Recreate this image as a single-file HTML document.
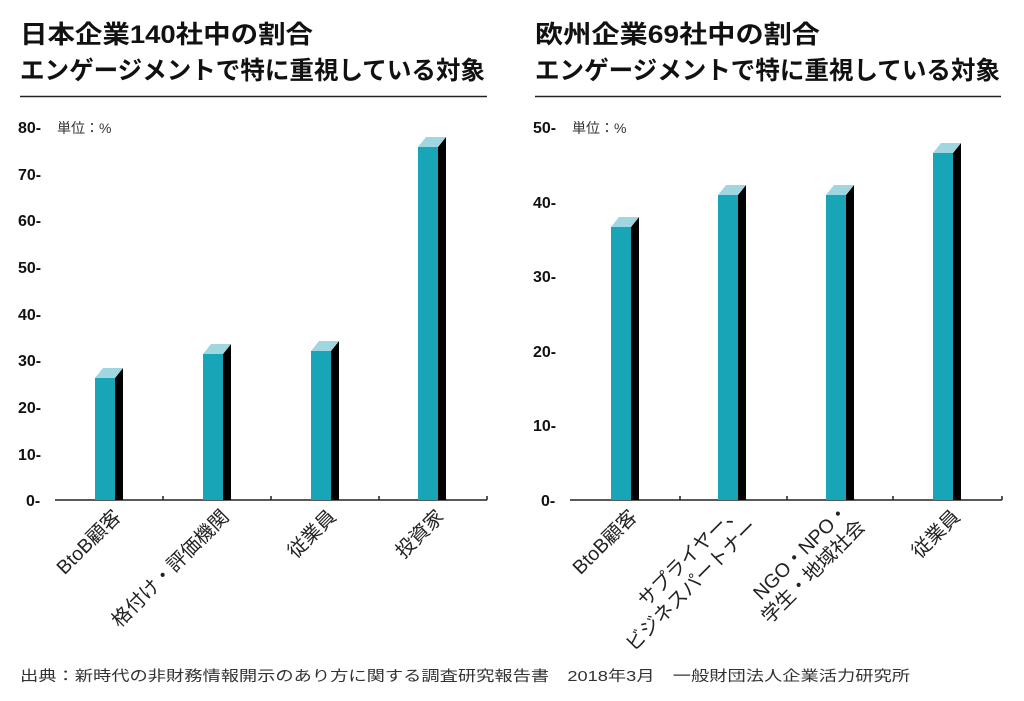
<!DOCTYPE html>
<html><head><meta charset="utf-8"><style>
html,body{margin:0;padding:0;background:#fff;}
svg{display:block;font-family:"Liberation Sans","Noto Sans CJK JP",sans-serif;}
.t{font-size:25px;font-weight:bold;fill:#111;}
.y{font-size:16px;font-weight:bold;fill:#111;}
.l{font-size:19.5px;fill:#222;}
</style></head><body>
<svg width="1024" height="701" viewBox="0 0 1024 701">
<text class="t" x="20" y="43" textLength="293" lengthAdjust="spacingAndGlyphs">日本企業140社中の割合</text>
<text class="t" x="20" y="79" textLength="465" lengthAdjust="spacingAndGlyphs">エンゲージメントで特に重視している対象</text>
<line x1="20" y1="96.5" x2="487" y2="96.5" stroke="#222" stroke-width="1.5"/>
<text class="t" x="535" y="43" textLength="285" lengthAdjust="spacingAndGlyphs">欧州企業69社中の割合</text>
<text class="t" x="535" y="79" textLength="465" lengthAdjust="spacingAndGlyphs">エンゲージメントで特に重視している対象</text>
<line x1="535" y1="96.5" x2="1001" y2="96.5" stroke="#222" stroke-width="1.5"/>

<g class="y">
<text x="18" y="133">80-</text><text x="18" y="180">70-</text><text x="18" y="226">60-</text>
<text x="18" y="273">50-</text><text x="18" y="320">40-</text><text x="18" y="366">30-</text>
<text x="18" y="413">20-</text><text x="18" y="460">10-</text><text x="26" y="506">0-</text>
</g>
<text x="57" y="133" style="font-size:14px;fill:#333">単位：%</text>
<path d="M55 500H487M163 496V500M271 496V500M379 496V500M487 496V500" stroke="#222" stroke-width="1.5" fill="none"/>
<g>
<rect x="95" y="378" width="20" height="122" fill="#18a5b8"/><polygon points="115,378 123,368 123,500 115,500" fill="#000"/><polygon points="95,378 103,368 123,368 115,378" fill="#9fd6df"/>
<rect x="203" y="354" width="20" height="146" fill="#18a5b8"/><polygon points="223,354 231,344 231,500 223,500" fill="#000"/><polygon points="203,354 211,344 231,344 223,354" fill="#9fd6df"/>
<rect x="311" y="351" width="20" height="149" fill="#18a5b8"/><polygon points="331,351 339,341 339,500 331,500" fill="#000"/><polygon points="311,351 319,341 339,341 331,351" fill="#9fd6df"/>
<rect x="418" y="147" width="20" height="353" fill="#18a5b8"/><polygon points="438,147 446,137 446,500 438,500" fill="#000"/><polygon points="418,147 426,137 446,137 438,147" fill="#9fd6df"/>
</g>
<g class="l">
<text transform="translate(122,518) rotate(-45)" text-anchor="end">BtoB顧客</text>
<text transform="translate(230,518) rotate(-45)" text-anchor="end">格付け・評価機関</text>
<text transform="translate(337,518) rotate(-45)" text-anchor="end">従業員</text>
<text transform="translate(445,518) rotate(-45)" text-anchor="end">投資家</text>
</g>

<g class="y">
<text x="533" y="133">50-</text><text x="533" y="208">40-</text><text x="533" y="282">30-</text>
<text x="533" y="357">20-</text><text x="533" y="431">10-</text><text x="541" y="506">0-</text>
</g>
<text x="572" y="133" style="font-size:14px;fill:#333">単位：%</text>
<path d="M570 500H1002M680 496V500M787 496V500M893 496V500M1002 496V500" stroke="#222" stroke-width="1.5" fill="none"/>
<g>
<rect x="611" y="227" width="20" height="273" fill="#18a5b8"/><polygon points="631,227 639,217 639,500 631,500" fill="#000"/><polygon points="611,227 619,217 639,217 631,227" fill="#9fd6df"/>
<rect x="718" y="195" width="20" height="305" fill="#18a5b8"/><polygon points="738,195 746,185 746,500 738,500" fill="#000"/><polygon points="718,195 726,185 746,185 738,195" fill="#9fd6df"/>
<rect x="826" y="195" width="20" height="305" fill="#18a5b8"/><polygon points="846,195 854,185 854,500 846,500" fill="#000"/><polygon points="826,195 834,185 854,185 846,195" fill="#9fd6df"/>
<rect x="933" y="153" width="20" height="347" fill="#18a5b8"/><polygon points="953,153 961,143 961,500 953,500" fill="#000"/><polygon points="933,153 941,143 961,143 953,153" fill="#9fd6df"/>
</g>
<g class="l">
<text transform="translate(638,518) rotate(-45)" text-anchor="end">BtoB顧客</text>
<text transform="translate(742,512) rotate(-45)" text-anchor="end">サプライヤー、</text>
<text transform="translate(758,528) rotate(-45)" text-anchor="end">ビジネスパートナー</text>
<text transform="translate(850,512) rotate(-45)" text-anchor="end">NGO・NPO・</text>
<text transform="translate(866,528) rotate(-45)" text-anchor="end">学生・地域社会</text>
<text transform="translate(961,518) rotate(-45)" text-anchor="end">従業員</text>
</g>

<text x="20" y="681" style="font-size:14.5px;fill:#333" textLength="890" lengthAdjust="spacingAndGlyphs">出典：新時代の非財務情報開示のあり方に関する調査研究報告書　2018年3月　一般財団法人企業活力研究所</text>
</svg>
</body></html>
